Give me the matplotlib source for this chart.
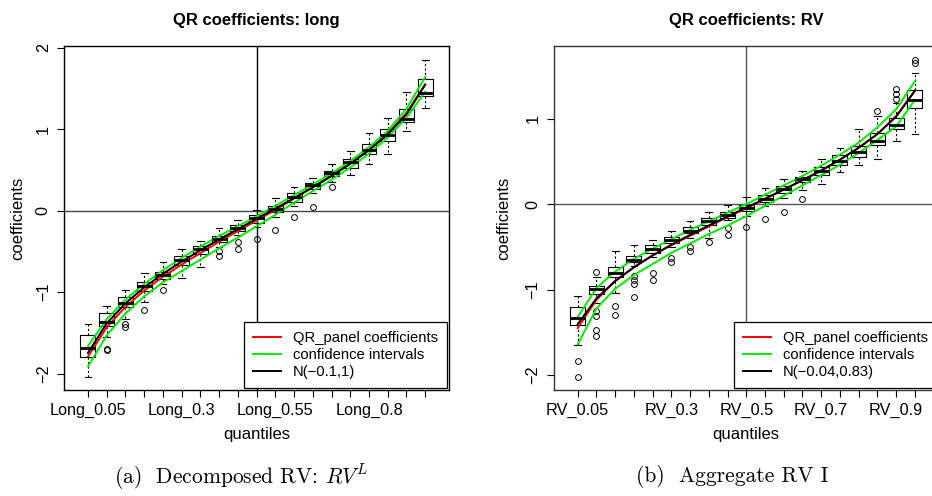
import matplotlib
matplotlib.use("Agg")
import matplotlib.pyplot as plt
from matplotlib.lines import Line2D

plt.rcParams['font.family'] = ['Liberation Sans', 'DejaVu Sans']
plt.rcParams['mathtext.fontset'] = 'cm'

# quantile labels (1..19)
quantiles = ["0.05", "0.1", "0.15", "0.2", "0.25", "0.3", "0.35", "0.4", "0.45", "0.5",
             "0.55", "0.6", "0.65", "0.7", "0.75", "0.8", "0.85", "0.9", "0.95"]
long_shown = [1, 6, 11, 16]
rv_shown = [1, 6, 10, 14, 18]

# ---- panel (a): long ----
long_q1 = [-1.795, -1.41, -1.18, -0.99, -0.835, -0.665, -0.53, -0.38, -0.245, -0.147,
           -0.02, 0.11, 0.262, 0.42, 0.527, 0.69, 0.85, 1.082, 1.404]
long_med = [-1.68, -1.36, -1.13, -0.93, -0.787, -0.61, -0.47, -0.35, -0.208, -0.094,
            0.021, 0.171, 0.315, 0.465, 0.60, 0.743, 0.927, 1.12, 1.449]
long_q3 = [-1.53, -1.25, -1.065, -0.87, -0.755, -0.56, -0.43, -0.31, -0.175, -0.053,
           0.061, 0.213, 0.343, 0.49, 0.629, 0.813, 1.004, 1.253, 1.612]
long_lo = [-2.04, -1.55, -1.33, -1.12, -0.90, -0.83, -0.685, -0.45, -0.30, -0.20,
           -0.073, 0.058, 0.213, 0.355, 0.437, 0.575, 0.70, 0.976, 1.26]
long_hi = [-1.39, -1.17, -0.97, -0.76, -0.63, -0.47, -0.37, -0.21, -0.118, 0.005,
           0.15, 0.286, 0.396, 0.572, 0.73, 0.947, 1.14, 1.457, 1.853]
long_out = [[], [-1.70, -1.71], [-1.39, -1.43], [-1.215], [-0.97], [], [], [-0.50, -0.56],
            [-0.39, -0.47], [-0.343], [-0.235], [-0.083], [0.04], [0.286], [], [], [], [], []]
long_red = [-1.79, -1.43, -1.18, -0.98, -0.81, -0.66, -0.52, -0.38, -0.25, -0.12,
            0.01, 0.15, 0.29, 0.43, 0.58, 0.75, 0.95, 1.20, 1.55]
long_up = [-1.66, -1.33, -1.09, -0.90, -0.73, -0.58, -0.44, -0.31, -0.19, -0.07,
           0.06, 0.19, 0.32, 0.46, 0.61, 0.78, 0.98, 1.25, 1.64]
long_dn = [-1.91, -1.53, -1.26, -1.05, -0.88, -0.74, -0.60, -0.46, -0.33, -0.19,
           -0.05, 0.10, 0.24, 0.38, 0.53, 0.70, 0.90, 1.14, 1.46]
long_norm = [-1.745, -1.382, -1.136, -0.942, -0.774, -0.624, -0.485, -0.353, -0.226, -0.1,
             0.026, 0.153, 0.285, 0.424, 0.574, 0.742, 0.936, 1.182, 1.545]

# ---- panel (b): RV ----
rv_q1 = [-1.41, -1.049, -0.858, -0.678, -0.573, -0.456, -0.339, -0.242, -0.157, -0.075,
         0.023, 0.129, 0.257, 0.343, 0.452, 0.55, 0.69, 0.877, 1.122]
rv_med = [-1.333, -0.994, -0.807, -0.651, -0.527, -0.417, -0.309, -0.195, -0.125, -0.04,
          0.062, 0.175, 0.292, 0.389, 0.506, 0.608, 0.744, 0.924, 1.218]
rv_q3 = [-1.205, -0.963, -0.737, -0.612, -0.484, -0.386, -0.269, -0.157, -0.098, -0.008,
         0.109, 0.214, 0.323, 0.44, 0.573, 0.682, 0.83, 1.009, 1.336]
rv_lo = [-1.646, -1.158, -1.04, -0.72, -0.613, -0.50, -0.40, -0.40, -0.19, -0.137,
         -0.02, 0.077, 0.167, 0.234, 0.374, 0.456, 0.53, 0.733, 0.822]
rv_hi = [-1.07, -0.858, -0.554, -0.484, -0.417, -0.32, -0.192, -0.098, -0.016, 0.089,
         0.187, 0.292, 0.39, 0.526, 0.655, 0.877, 1.033, 1.18, 1.532]
rv_out = [[-1.833, -2.02], [-0.79, -1.25, -1.31, -1.47, -1.54], [-1.198, -1.295],
          [-0.839, -0.885, -0.936, -1.092], [-0.807, -0.893], [-0.636, -0.678],
          [-0.496, -0.554], [-0.44], [-0.274, -0.363], [-0.262], [-0.175], [-0.09],
          [0.058], [], [], [], [1.091], [1.235, 1.287, 1.345], [1.656, 1.69]]
rv_red = [-1.45, -1.12, -0.90, -0.74, -0.60, -0.48, -0.37, -0.26, -0.15, -0.05,
          0.06, 0.17, 0.28, 0.39, 0.52, 0.66, 0.82, 1.03, 1.33]
rv_up = [-1.32, -0.98, -0.79, -0.64, -0.52, -0.41, -0.30, -0.20, -0.10, 0.00,
         0.11, 0.22, 0.33, 0.45, 0.58, 0.72, 0.90, 1.11, 1.44]
rv_dn = [-1.64, -1.22, -0.99, -0.83, -0.70, -0.57, -0.46, -0.35, -0.25, -0.14,
         -0.02, 0.10, 0.22, 0.34, 0.46, 0.60, 0.75, 0.91, 1.22]
rv_norm = [-1.405, -1.104, -0.900, -0.739, -0.600, -0.475, -0.360, -0.250, -0.144, -0.04,
           0.064, 0.170, 0.280, 0.395, 0.520, 0.659, 0.820, 1.024, 1.325]

LW = 1.4


def draw_panel(ax, prefix, shown, q1, med, q3, lo, hi, out, red, up, dn, norm,
               norm_label, ylim, yticks, spine_col, hcol, vcol):
    pos = list(range(1, len(med) + 1))
    stats = []
    for i in range(len(med)):
        stats.append(dict(med=med[i], q1=q1[i], q3=q3[i], whislo=lo[i], whishi=hi[i],
                          fliers=out[i]))
    ax.bxp(stats, positions=pos, widths=0.8, capwidths=0.36, showfliers=True,
           boxprops=dict(color='black', linewidth=0.8),
           medianprops=dict(color='black', linewidth=2.0),
           whiskerprops=dict(color='black', linewidth=0.8, linestyle=(0, (2, 2))),
           capprops=dict(color='black', linewidth=0.8),
           flierprops=dict(marker='o', markerfacecolor='none', markeredgecolor='black',
                           markersize=4.2, markeredgewidth=0.7))
    ax.axhline(0, color=hcol, linewidth=1.0, zorder=1)
    ax.axvline(10, color=vcol, linewidth=1.0, zorder=1)
    ax.plot(pos, red, color='#ff0000', linewidth=LW)
    ax.plot(pos, up, color='#00ee00', linewidth=LW)
    ax.plot(pos, dn, color='#00ee00', linewidth=LW)
    ax.plot(pos, norm, color='black', linewidth=LW)

    ax.set_xlim(-0.28, 20.27)
    ax.set_ylim(*ylim)
    ax.set_xticks(pos)
    ax.set_xticklabels([prefix + quantiles[p - 1] if p in shown else "" for p in pos],
                       fontsize=11.7)
    ax.set_yticks(yticks)
    ax.set_yticklabels([str(t).replace('-', '\u2212') for t in yticks], fontsize=11.7)
    ax.tick_params(axis='both', direction='out', length=5, width=0.8, pad=4.5)
    ax.tick_params(axis='y', labelrotation=90)
    for lab in ax.get_yticklabels():
        lab.set_va('center')
    for sp in ax.spines.values():
        sp.set_color(spine_col)
        sp.set_linewidth(1.0)

    handles = [Line2D([], [], color='#ff0000', linewidth=LW),
               Line2D([], [], color='#00ee00', linewidth=LW),
               Line2D([], [], color='black', linewidth=LW)]
    leg = ax.legend(handles, ["QR_panel coefficients", "confidence intervals", norm_label],
                    loc='lower right', fontsize=10.6, fancybox=False, framealpha=1,
                    edgecolor='black', borderaxespad=0.15, handlelength=1.9,
                    handletextpad=0.8, labelspacing=0.2, borderpad=0.6)
    leg.get_frame().set_linewidth(0.9)


fig = plt.figure(figsize=(9.32, 4.96), dpi=100)
W, H = 932.0, 496.0
ax1 = fig.add_axes([64 / W, 106 / H, 385 / W, 344 / H])
ax2 = fig.add_axes([553.7 / W, 106 / H, 385 / W, 344 / H])

draw_panel(ax1, "Long_", long_shown, long_q1, long_med, long_q3, long_lo, long_hi, long_out,
           long_red, long_up, long_dn, long_norm, "N(\u22120.1,1)", (-2.2, 2.02),
           [-2, -1, 0, 1, 2], 'black', '#444444', 'black')
draw_panel(ax2, "RV_", rv_shown, rv_q1, rv_med, rv_q3, rv_lo, rv_hi, rv_out,
           rv_red, rv_up, rv_dn, rv_norm, "N(\u22120.04,0.83)", (-2.175, 1.85),
           [-2, -1, 0, 1], '#333333', '#555555', '#555555')

# titles, axis labels
fig.text(256.5 / W, 1 - 20 / H, "QR coefficients: long", ha='center', va='center',
         fontsize=12, fontweight='bold')
fig.text(746 / W, 1 - 20 / H, "QR coefficients: RV", ha='center', va='center',
         fontsize=12, fontweight='bold')
fig.text(256.5 / W, 1 - 435 / H, "quantiles", ha='center', va='center', fontsize=12)
fig.text(746 / W, 1 - 435 / H, "quantiles", ha='center', va='center', fontsize=12)
fig.text(18 / W, 1 - 218 / H, "coefficients", ha='center', va='center', fontsize=12,
         rotation=90)
fig.text(504 / W, 1 - 218 / H, "coefficients", ha='center', va='center', fontsize=12,
         rotation=90)

# sub-figure captions
fig.text(241 / W, 1 - 477 / H, "(a)  Decomposed RV: $RV^L$", ha='center', va='center',
         fontsize=15.5, family='cmr10')
fig.text(732 / W, 1 - 477 / H, "(b)  Aggregate RV I", ha='center', va='center',
         fontsize=15.5, family='cmr10')

fig.savefig("out.png", dpi=100)
